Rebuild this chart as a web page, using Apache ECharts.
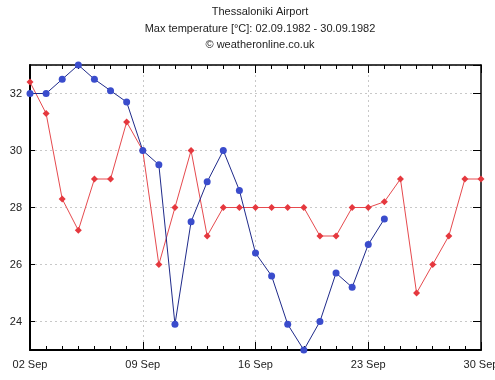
<!DOCTYPE html>
<html>
<head>
<meta charset="utf-8">
<script src="https://cdn.jsdelivr.net/npm/echarts@6/dist/echarts.min.js"></script>
<style>
html,body{margin:0;padding:0;background:#fff;overflow:hidden;}
#c{width:495px;height:380px;}
</style>
</head>
<body>
<div id="c"></div>
<script>
const categories = ['02 Sep','03 Sep','04 Sep','05 Sep','06 Sep','07 Sep','08 Sep','09 Sep','10 Sep','11 Sep','12 Sep','13 Sep','14 Sep','15 Sep','16 Sep','17 Sep','18 Sep','19 Sep','20 Sep','21 Sep','22 Sep','23 Sep','24 Sep','25 Sep','26 Sep','27 Sep','28 Sep','29 Sep','30 Sep'];
const redValues = [32.4,31.3,28.3,27.2,29.0,29.0,31.0,30.0,26.0,28.0,30.0,27.0,28.0,28.0,28.0,28.0,28.0,28.0,27.0,27.0,28.0,28.0,28.2,29.0,25.0,26.0,27.0,29.0,29.0];
const blueValues = [32.0,32.0,32.5,33.0,32.5,32.1,31.7,30.0,29.5,23.9,27.5,28.9,30.0,28.6,26.4,25.6,23.9,23.0,24.0,25.7,25.2,26.7,27.6,null,null,null,null,null,null];
const yMin = 23, yMax = 33;
const titleLines = ['Thessaloniki Airport','Max temperature [°C]: 02.09.1982 - 30.09.1982','© weatheronline.co.uk'];

const chart = echarts.init(document.getElementById('c'), null, {renderer:'canvas', width:495, height:380});
const font = 'Liberation Sans, Arial, sans-serif';
const gridLine = {show:true, lineStyle:{color:'#c8c8c8', type:[2,3], width:1}};
const base = {type:'category', data:categories, boundaryGap:false, gridIndex:0};
chart.setOption({
  animation:false,
  backgroundColor:'#fff',
  title:{text:titleLines.join('\n'), left:255, textAlign:'center', top:-1,
    textStyle:{fontFamily:font, fontSize:11, fontWeight:'normal', color:'#222', lineHeight:16.5}},
  grid:{left:30, right:14, top:65, bottom:30, containLabel:false, outerBoundsMode:'none'},
  xAxis:[
    Object.assign({}, base, {position:'bottom',
      axisLine:{show:true, lineStyle:{color:'#000', width:2}},
      axisTick:{show:true, inside:true, interval:0, length:4, lineStyle:{color:'#000'}},
      axisLabel:{show:true, interval:6, margin:9, fontFamily:font, fontSize:11, color:'#222'},
      splitLine:{show:true, interval:(i)=> i%7===0 && i>0 && i<28, lineStyle:{color:'#c8c8c8', type:[2,3], width:1}}}),
    Object.assign({}, base, {position:'bottom',
      axisLine:{show:false},
      axisTick:{show:true, inside:true, interval:6, length:8, lineStyle:{color:'#000'}},
      axisLabel:{show:false}, splitLine:{show:false}}),
    Object.assign({}, base, {position:'top',
      axisLine:{show:true, lineStyle:{color:'#000', width:1.5}},
      axisTick:{show:true, inside:true, interval:0, length:4, lineStyle:{color:'#000'}},
      axisLabel:{show:false}, splitLine:{show:false}}),
    Object.assign({}, base, {position:'top',
      axisLine:{show:false},
      axisTick:{show:true, inside:true, interval:6, length:8, lineStyle:{color:'#000'}},
      axisLabel:{show:false}, splitLine:{show:false}})
  ],
  yAxis:[
    {type:'value', min:yMin, max:yMax, splitNumber:5, position:'left',
      axisLine:{show:true, lineStyle:{color:'#000', width:2}},
      axisTick:{show:true, inside:true, length:5, lineStyle:{color:'#000'}},
      axisLabel:{show:true, showMinLabel:false, showMaxLabel:false, margin:8, fontFamily:font, fontSize:11, color:'#222'},
      splitLine:gridLine},
    {type:'value', min:yMin, max:yMax, splitNumber:5, position:'right',
      axisLine:{show:true, lineStyle:{color:'#000', width:1.5}},
      axisTick:{show:true, inside:true, length:8, lineStyle:{color:'#000'}},
      axisLabel:{show:false}, splitLine:{show:false}}
  ],
  series:[
    {type:'line', name:'red', data:redValues, xAxisIndex:0, yAxisIndex:0,
      symbol:'diamond', symbolSize:7, showAllSymbol:true,
      lineStyle:{color:'#e64a4e', width:1}, itemStyle:{color:'#e5383e'}, z:3},
    {type:'line', name:'blue', data:blueValues, xAxisIndex:0, yAxisIndex:0,
      symbol:'circle', symbolSize:7, showAllSymbol:true, connectNulls:false,
      lineStyle:{color:'#1f2a8a', width:1}, itemStyle:{color:'#3a4ccc'}, z:4}
  ]
});
</script>
</body>
</html>
